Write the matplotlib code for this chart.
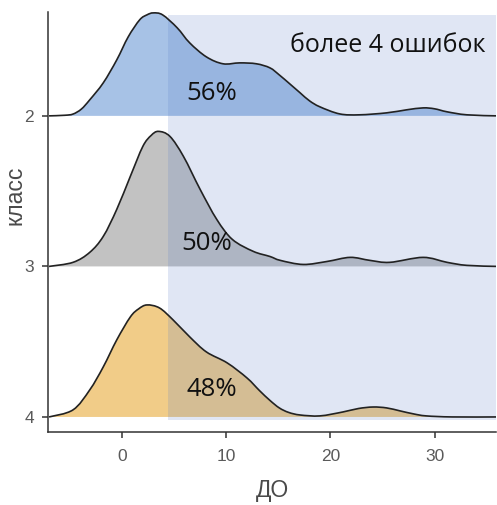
import matplotlib
matplotlib.use("Agg")
import matplotlib.pyplot as plt
from matplotlib.patches import Rectangle, PathPatch
from matplotlib.path import Path

# ---- data ----
classes = ["4", "3", "2"]            # bottom -> top
x_label = "ДО"
y_label = "класс"
x_ticks = [0, 10, 20, 30]
threshold = 4.4
annot_title = "более 4 ошибок"
shares = ["48%", "50%", "56%"]

x_2 = [-7.0, -5.5, -4.7, -3.9, -3.1, -1.8, -0.5, 0.6, 1.7, 2.4, 3.0, 3.9, 5.3, 6.5, 8.1,
       9.7, 11.3, 12.9, 14.2, 15.1, 16.1, 17.1, 18.0, 19.0, 20.9, 22.8, 25.4, 27.3, 28.9,
       30.0, 31.2, 33.1, 36.0]
d_2 = [0.000, 0.004, 0.012, 0.045, 0.106, 0.219, 0.372, 0.525, 0.638, 0.671, 0.684, 0.671,
       0.585, 0.485, 0.392, 0.346, 0.352, 0.346, 0.319, 0.272, 0.213, 0.153, 0.100, 0.060,
       0.013, 0.007, 0.020, 0.040, 0.053, 0.047, 0.027, 0.007, 0.000]

x_3 = [-7.0, -4.7, -3.1, -1.8, -0.5, 0.8, 2.0, 2.8, 3.5, 4.6, 5.9, 7.5, 9.1, 10.6, 12.6,
       14.2, 15.2, 17.4, 19.7, 21.9, 23.8, 25.7, 28.9, 31.2, 33.1, 36.0]
d_3 = [0.000, 0.027, 0.093, 0.199, 0.379, 0.598, 0.797, 0.870, 0.897, 0.864, 0.731, 0.512,
       0.312, 0.179, 0.100, 0.066, 0.040, 0.013, 0.033, 0.060, 0.040, 0.027, 0.060, 0.027,
       0.007, 0.000]

x_4 = [-7.0, -4.7, -3.1, -1.8, -0.5, 0.8, 1.6, 2.4, 3.6, 4.9, 6.5, 8.1, 10.1, 12.0, 13.2,
       14.2, 15.1, 16.0, 17.1, 19.0, 21.2, 22.7, 24.1, 25.4, 26.7, 28.0, 29.2, 31.7, 36.0]
d_4 = [0.000, 0.047, 0.179, 0.332, 0.512, 0.664, 0.718, 0.744, 0.724, 0.645, 0.532, 0.432,
       0.359, 0.259, 0.175, 0.110, 0.060, 0.030, 0.013, 0.007, 0.033, 0.056, 0.066, 0.060,
       0.040, 0.020, 0.007, 0.000, 0.000]

xs = [x_4, x_3, x_2]
ds = [d_4, d_3, d_2]
fills = ["#f1cc88", "#c2c2c2", "#a7c2e6"]


def smooth_path(px, py, base, closed):
    """Cubic Bezier path through the read points (Catmull-Rom tangents)."""
    n = len(px)
    verts = [(px[0], py[0])]
    codes = [Path.MOVETO]
    for k in range(n - 1):
        k0 = max(k - 1, 0)
        k3 = min(k + 2, n - 1)
        c1 = (px[k] + (px[k + 1] - px[k0]) / 6.0, py[k] + (py[k + 1] - py[k0]) / 6.0)
        c2 = (px[k + 1] - (px[k3] - px[k]) / 6.0, py[k + 1] - (py[k3] - py[k]) / 6.0)
        verts += [c1, c2, (px[k + 1], py[k + 1])]
        codes += [Path.CURVE4] * 3
    if closed:
        verts += [(px[-1], base), (px[0], base), (px[0], py[0])]
        codes += [Path.LINETO, Path.LINETO, Path.CLOSEPOLY]
    return Path(verts, codes)


W, H, DPI = 497, 505, 100
fig = plt.figure(figsize=(W / DPI, H / DPI), dpi=DPI)
ax = fig.add_axes([48 / W, (H - 432) / H, (496 - 48) / W, (432 - 12) / H])

xmin, xmax = -7.1, 35.9
ymin, ymax = -0.1, 2.69

for i in [2, 1, 0]:
    base = i
    yy = [base + v for v in ds[i]]
    ax.add_patch(PathPatch(smooth_path(xs[i], yy, base, True), facecolor=fills[i],
                           lw=0, zorder=2 + (2 - i) * 2))
    ax.add_patch(PathPatch(smooth_path(xs[i], yy, base, False), facecolor="none",
                           edgecolor="#222222", lw=1.2, zorder=13 + (2 - i) * 2))

ax.add_patch(Rectangle((threshold, -0.02), xmax - threshold + 1, 2.67 + 0.02,
                       facecolor="#5b7fc8", alpha=0.19, lw=0, zorder=9))

font = "Open Sans"
ax.text(25.5, 2.47, annot_title, ha="center", va="center", fontsize=18,
        family=font, color="#111111", zorder=30)
share_pos = [(8.6, 0.18), (8.15, 1.15), (8.6, 2.15)]
for (px, py), s in zip(share_pos, shares):
    ax.text(px, py, s, ha="center", va="center", fontsize=18.5, family=font,
            color="#111111", zorder=30)

axfont = "Liberation Sans"
ax.set_xlim(xmin, xmax)
ax.set_ylim(ymin, ymax)
ax.set_xticks(x_ticks)
ax.set_xticklabels([str(t) for t in x_ticks], family=axfont)
ax.set_yticks([0, 1, 2])
ax.set_yticklabels(classes, family=axfont)
for s in ["top", "right"]:
    ax.spines[s].set_visible(False)
for s in ["left", "bottom"]:
    ax.spines[s].set_color("#333333")
    ax.spines[s].set_linewidth(1.1)
ax.tick_params(axis="both", colors="#333333", labelcolor="#5a5a5a", labelsize=12.5,
               length=4.5, width=1.1)
ax.tick_params(axis="x", pad=8)
ax.tick_params(axis="y", pad=5.5)
ax.set_xlabel(x_label, fontsize=16.5, color="#4a4a4a", family=axfont)
ax.set_ylabel(y_label, fontsize=16.5, color="#4a4a4a", family=axfont)
ax.xaxis.set_label_coords(0.5, -0.112)
ax.yaxis.set_label_coords(-0.047, 0.564)
ax.set_facecolor("white")

fig.savefig("out.png", dpi=DPI)
